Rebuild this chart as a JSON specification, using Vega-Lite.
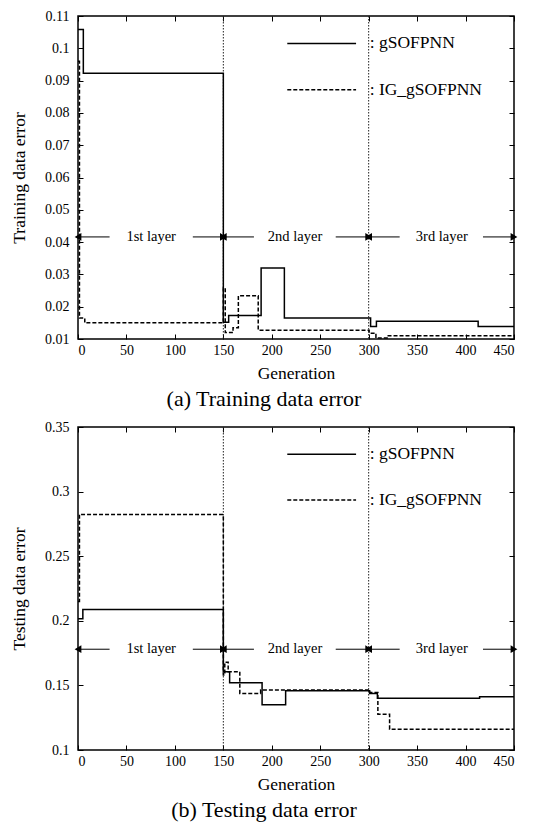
{
  "$schema": "https://vega.github.io/schema/vega-lite/v6.json",
  "padding": {"left": 9, "top": 8, "right": 15, "bottom": 4},
  "spacing": 8,
  "config": {
    "font": "Liberation Serif",
    "view": {"stroke": "black", "strokeWidth": 1.5},
    "style": {
      "guide-label": {"font": "Liberation Serif", "fill": "black"},
      "guide-title": {"font": "Liberation Serif", "fill": "black", "fontWeight": "normal"}
    },
    "axis": {
      "domain": false, "grid": false, "ticks": true, "tickColor": "black",
      "tickSize": -5, "tickWidth": 1, "labelColor": "black",
      "labelFont": "Liberation Serif", "labelFontSize": 14,
      "titleFont": "Liberation Serif", "titleFontSize": 17.5,
      "titleFontWeight": "normal", "titleColor": "black"
    },
    "axisX": {"labelPadding": 9, "titlePadding": 7},
    "axisY": {"labelPadding": 14, "titlePadding": 16}
  },
  "datasets": {
    "vlines": [{"gen": 150}, {"gen": 300}],
    "train": [
      {"series": "gSOFPNN", "gen": 0, "err": 0.1058},
      {"series": "gSOFPNN", "gen": 5.5, "err": 0.0923},
      {"series": "gSOFPNN", "gen": 150, "err": 0.0152},
      {"series": "gSOFPNN", "gen": 155.5, "err": 0.0173},
      {"series": "gSOFPNN", "gen": 189, "err": 0.032},
      {"series": "gSOFPNN", "gen": 213, "err": 0.0165},
      {"series": "gSOFPNN", "gen": 302, "err": 0.0139},
      {"series": "gSOFPNN", "gen": 308, "err": 0.0155},
      {"series": "gSOFPNN", "gen": 413, "err": 0.0139},
      {"series": "gSOFPNN", "gen": 450, "err": 0.0139},
      {"series": "IG_gSOFPNN", "gen": 0, "err": 0.096},
      {"series": "IG_gSOFPNN", "gen": 1.5, "err": 0.0165},
      {"series": "IG_gSOFPNN", "gen": 7, "err": 0.015},
      {"series": "IG_gSOFPNN", "gen": 150, "err": 0.0258},
      {"series": "IG_gSOFPNN", "gen": 152, "err": 0.012},
      {"series": "IG_gSOFPNN", "gen": 160, "err": 0.0135},
      {"series": "IG_gSOFPNN", "gen": 165.5, "err": 0.0234},
      {"series": "IG_gSOFPNN", "gen": 186, "err": 0.0127},
      {"series": "IG_gSOFPNN", "gen": 300.5, "err": 0.0118},
      {"series": "IG_gSOFPNN", "gen": 307.5, "err": 0.0103},
      {"series": "IG_gSOFPNN", "gen": 319, "err": 0.011},
      {"series": "IG_gSOFPNN", "gen": 450, "err": 0.011}
    ],
    "test": [
      {"series": "gSOFPNN", "gen": 0, "err": 0.2015},
      {"series": "gSOFPNN", "gen": 5, "err": 0.2088},
      {"series": "gSOFPNN", "gen": 150, "err": 0.1605},
      {"series": "gSOFPNN", "gen": 156.5, "err": 0.152},
      {"series": "gSOFPNN", "gen": 190, "err": 0.135},
      {"series": "gSOFPNN", "gen": 214.3, "err": 0.1458},
      {"series": "gSOFPNN", "gen": 301, "err": 0.1438},
      {"series": "gSOFPNN", "gen": 309, "err": 0.14},
      {"series": "gSOFPNN", "gen": 414.5, "err": 0.1412},
      {"series": "gSOFPNN", "gen": 450, "err": 0.1412},
      {"series": "IG_gSOFPNN", "gen": 0, "err": 0.215},
      {"series": "IG_gSOFPNN", "gen": 1.5, "err": 0.2823},
      {"series": "IG_gSOFPNN", "gen": 150, "err": 0.158},
      {"series": "IG_gSOFPNN", "gen": 151.5, "err": 0.168},
      {"series": "IG_gSOFPNN", "gen": 155, "err": 0.1605},
      {"series": "IG_gSOFPNN", "gen": 167, "err": 0.1438},
      {"series": "IG_gSOFPNN", "gen": 188.5, "err": 0.1464},
      {"series": "IG_gSOFPNN", "gen": 301, "err": 0.1445},
      {"series": "IG_gSOFPNN", "gen": 309.5, "err": 0.1276},
      {"series": "IG_gSOFPNN", "gen": 321.6, "err": 0.116},
      {"series": "IG_gSOFPNN", "gen": 450, "err": 0.116}
    ],
    "trainLegend": [
      {"series": "gSOFPNN", "gen": 216, "gen2": 287, "err": 0.1015, "label": ": gSOFPNN"},
      {"series": "IG_gSOFPNN", "gen": 216, "gen2": 287, "err": 0.0872, "label": ": IG_gSOFPNN"}
    ],
    "testLegend": [
      {"series": "gSOFPNN", "gen": 216, "gen2": 287, "err": 0.329, "label": ": gSOFPNN"},
      {"series": "IG_gSOFPNN", "gen": 216, "gen2": 287, "err": 0.2935, "label": ": IG_gSOFPNN"}
    ],
    "layerText": [
      {"gen": 75.5, "label": "1st layer"},
      {"gen": 224, "label": "2nd layer"},
      {"gen": 375.5, "label": "3rd layer"}
    ],
    "arrowLines": [
      {"gen": 0, "gen2": 32.6},
      {"gen": 118.5, "gen2": 150},
      {"gen": 150, "gen2": 181.6},
      {"gen": 266, "gen2": 300},
      {"gen": 300, "gen2": 332},
      {"gen": 418, "gen2": 450}
    ],
    "arrowHeads": [
      {"gen": 0, "dir": "left"},
      {"gen": 150, "dir": "right"},
      {"gen": 150, "dir": "left"},
      {"gen": 300, "dir": "right"},
      {"gen": 300, "dir": "left"},
      {"gen": 450, "dir": "right"}
    ]
  },
  "vconcat": [
    {
      "width": 436, "height": 323,
      "title": {"text": "(a) Training data error", "orient": "bottom", "anchor": "middle", "dx": -32, "fontSize": 22, "fontWeight": "normal", "font": "Liberation Serif", "color": "black", "offset": 7},
      "resolve": {"axis": {"x": "independent", "y": "independent"}},
      "layer": [
        {
          "data": {"name": "vlines"},
          "mark": {"type": "rule", "strokeDash": [1.5, 1.5], "strokeWidth": 1, "color": "#222"},
          "encoding": {
            "x": {"field": "gen", "type": "quantitative", "scale": {"domain": [0, 450], "nice": false}, "axis": null}
          }
        },
        {
          "data": {"name": "train"},
          "mark": {"type": "line", "interpolate": "step-after", "color": "black", "strokeWidth": 1.5, "clip": true},
          "encoding": {
            "x": {"field": "gen", "type": "quantitative", "scale": {"domain": [0, 450], "nice": false},
                  "axis": {"orient": "bottom", "values": [0, 50, 100, 150, 200, 250, 300, 350, 400, 450], "title": "Generation"}},
            "y": {"field": "err", "type": "quantitative", "scale": {"domain": [0.01, 0.11], "nice": false, "zero": false},
                  "axis": {"orient": "left", "values": [0.01, 0.02, 0.03, 0.04, 0.05, 0.06, 0.07, 0.08, 0.09, 0.1, 0.11], "format": "~g", "title": "Training data error"}},
            "strokeDash": {"field": "series", "type": "nominal", "scale": {"domain": ["gSOFPNN", "IG_gSOFPNN"], "range": [[1, 0], [4, 2]]}, "legend": null}
          }
        },
        {
          "data": {"name": "trainLegend"},
          "mark": {"type": "rule", "color": "black", "strokeWidth": 1.5},
          "encoding": {
            "x": {"field": "gen", "type": "quantitative", "scale": {"domain": [0, 450], "nice": false},
                  "axis": {"orient": "top", "values": [0, 50, 100, 150, 200, 250, 300, 350, 400, 450], "labels": false, "title": null}},
            "x2": {"field": "gen2"},
            "y": {"field": "err", "type": "quantitative", "scale": {"domain": [0.01, 0.11], "nice": false, "zero": false},
                  "axis": {"orient": "right", "values": [0.01, 0.02, 0.03, 0.04, 0.05, 0.06, 0.07, 0.08, 0.09, 0.1, 0.11], "labels": false, "title": null}},
            "strokeDash": {"field": "series", "type": "nominal", "scale": {"domain": ["gSOFPNN", "IG_gSOFPNN"], "range": [[1, 0], [4, 2]]}, "legend": null}
          }
        },
        {
          "data": {"name": "trainLegend"},
          "mark": {"type": "text", "align": "left", "baseline": "middle", "dx": 1, "fontSize": 17.5, "font": "Liberation Serif", "color": "black"},
          "encoding": {
            "x": {"datum": 300, "type": "quantitative", "axis": null},
            "y": {"field": "err", "type": "quantitative", "axis": null},
            "text": {"field": "label"}
          }
        },
        {
          "data": {"name": "arrowLines"},
          "mark": {"type": "rule", "color": "black", "strokeWidth": 1},
          "encoding": {
            "x": {"field": "gen", "type": "quantitative", "axis": null},
            "x2": {"field": "gen2"},
            "y": {"datum": 0.0416, "type": "quantitative", "axis": null}
          }
        },
        {
          "data": {"name": "arrowHeads"},
          "mark": {"type": "point", "filled": true, "color": "black", "opacity": 1, "size": 60},
          "encoding": {
            "x": {"field": "gen", "type": "quantitative", "axis": null},
            "y": {"datum": 0.0416, "type": "quantitative", "axis": null},
            "shape": {"field": "dir", "type": "nominal", "scale": {"domain": ["left", "right"], "range": ["triangle-left", "triangle-right"]}, "legend": null},
            "xOffset": {"field": "dir", "type": "nominal", "scale": {"domain": ["left", "right"], "range": [3.9, -3.9]}}
          }
        },
        {
          "data": {"name": "layerText"},
          "mark": {"type": "text", "align": "center", "baseline": "middle", "fontSize": 14.5, "font": "Liberation Serif", "color": "black"},
          "encoding": {
            "x": {"field": "gen", "type": "quantitative", "axis": null},
            "y": {"datum": 0.0416, "type": "quantitative", "axis": null},
            "text": {"field": "label"}
          }
        }
      ]
    },
    {
      "width": 436, "height": 323,
      "title": {"text": "(b) Testing data error", "orient": "bottom", "anchor": "middle", "dx": -32, "fontSize": 22, "fontWeight": "normal", "font": "Liberation Serif", "color": "black", "offset": 7},
      "resolve": {"axis": {"x": "independent", "y": "independent"}},
      "layer": [
        {
          "data": {"name": "vlines"},
          "mark": {"type": "rule", "strokeDash": [1.5, 1.5], "strokeWidth": 1, "color": "#222"},
          "encoding": {
            "x": {"field": "gen", "type": "quantitative", "scale": {"domain": [0, 450], "nice": false}, "axis": null}
          }
        },
        {
          "data": {"name": "test"},
          "mark": {"type": "line", "interpolate": "step-after", "color": "black", "strokeWidth": 1.5, "clip": true},
          "encoding": {
            "x": {"field": "gen", "type": "quantitative", "scale": {"domain": [0, 450], "nice": false},
                  "axis": {"orient": "bottom", "values": [0, 50, 100, 150, 200, 250, 300, 350, 400, 450], "title": "Generation"}},
            "y": {"field": "err", "type": "quantitative", "scale": {"domain": [0.1, 0.35], "nice": false, "zero": false},
                  "axis": {"orient": "left", "values": [0.1, 0.15, 0.2, 0.25, 0.3, 0.35], "format": "~g", "title": "Testing data error"}},
            "strokeDash": {"field": "series", "type": "nominal", "scale": {"domain": ["gSOFPNN", "IG_gSOFPNN"], "range": [[1, 0], [4, 2]]}, "legend": null}
          }
        },
        {
          "data": {"name": "testLegend"},
          "mark": {"type": "rule", "color": "black", "strokeWidth": 1.5},
          "encoding": {
            "x": {"field": "gen", "type": "quantitative", "scale": {"domain": [0, 450], "nice": false},
                  "axis": {"orient": "top", "values": [0, 50, 100, 150, 200, 250, 300, 350, 400, 450], "labels": false, "title": null}},
            "x2": {"field": "gen2"},
            "y": {"field": "err", "type": "quantitative", "scale": {"domain": [0.1, 0.35], "nice": false, "zero": false},
                  "axis": {"orient": "right", "values": [0.1, 0.15, 0.2, 0.25, 0.3, 0.35], "labels": false, "title": null}},
            "strokeDash": {"field": "series", "type": "nominal", "scale": {"domain": ["gSOFPNN", "IG_gSOFPNN"], "range": [[1, 0], [4, 2]]}, "legend": null}
          }
        },
        {
          "data": {"name": "testLegend"},
          "mark": {"type": "text", "align": "left", "baseline": "middle", "dx": 1, "fontSize": 17.5, "font": "Liberation Serif", "color": "black"},
          "encoding": {
            "x": {"datum": 300, "type": "quantitative", "axis": null},
            "y": {"field": "err", "type": "quantitative", "axis": null},
            "text": {"field": "label"}
          }
        },
        {
          "data": {"name": "arrowLines"},
          "mark": {"type": "rule", "color": "black", "strokeWidth": 1},
          "encoding": {
            "x": {"field": "gen", "type": "quantitative", "axis": null},
            "x2": {"field": "gen2"},
            "y": {"datum": 0.178, "type": "quantitative", "axis": null}
          }
        },
        {
          "data": {"name": "arrowHeads"},
          "mark": {"type": "point", "filled": true, "color": "black", "opacity": 1, "size": 60},
          "encoding": {
            "x": {"field": "gen", "type": "quantitative", "axis": null},
            "y": {"datum": 0.178, "type": "quantitative", "axis": null},
            "shape": {"field": "dir", "type": "nominal", "scale": {"domain": ["left", "right"], "range": ["triangle-left", "triangle-right"]}, "legend": null},
            "xOffset": {"field": "dir", "type": "nominal", "scale": {"domain": ["left", "right"], "range": [3.9, -3.9]}}
          }
        },
        {
          "data": {"name": "layerText"},
          "mark": {"type": "text", "align": "center", "baseline": "middle", "fontSize": 14.5, "font": "Liberation Serif", "color": "black"},
          "encoding": {
            "x": {"field": "gen", "type": "quantitative", "axis": null},
            "y": {"datum": 0.178, "type": "quantitative", "axis": null},
            "text": {"field": "label"}
          }
        }
      ]
    }
  ]
}
